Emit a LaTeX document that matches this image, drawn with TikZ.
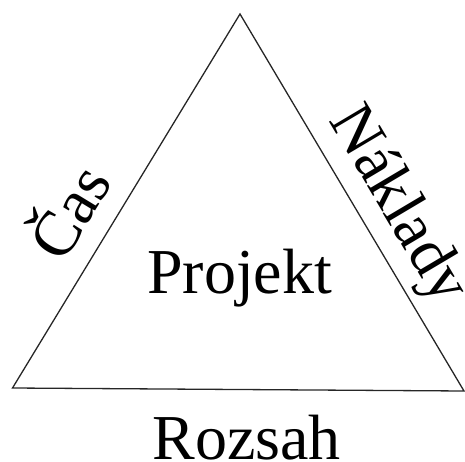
\documentclass[tikz,border=0pt]{standalone}
\usepackage{fontspec}
\setmainfont{Liberation Serif}
\begin{document}
\begin{tikzpicture}[x=1pt,y=-1pt,
  side/.style={draw=black!85,line width=1.3pt,line join=miter},
  label/.style={inner sep=0pt,font=\fontsize{64}{70}\selectfont}]
\useasboundingbox (0,0) rectangle (465,462);
% corners of the triangle
\coordinate (top) at (240,14);
\coordinate (bl) at (12.5,388);
\coordinate (br) at (464,391);
\draw[side] (top) -- (br) -- (bl) -- cycle;
% labels
\node[label,anchor=base] (proj) at (239.7,293.3) {Projekt};
\node[label,anchor=base] (scope) at (246.7,459.3) {Rozsah};
\node[label,rotate=58.7] (time) at (65,209) {Čas};
\node[label,rotate=-59.3] (cost) at (397,206) {Náklady};
\end{tikzpicture}
\end{document}
